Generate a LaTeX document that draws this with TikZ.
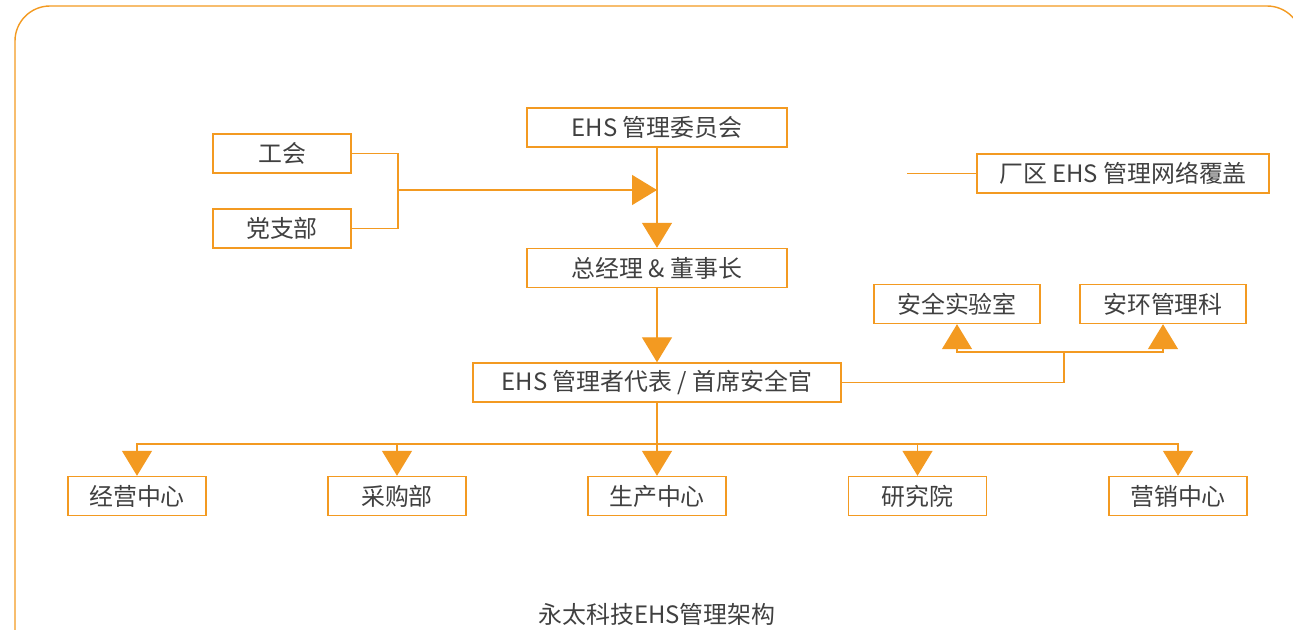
\documentclass[tikz,border=0pt]{standalone}
\usepackage{fontspec}
\newfontfamily\cjk{Noto Sans CJK SC}
\usetikzlibrary{arrows.meta}
\definecolor{ehsorange}{HTML}{F39A21}
\definecolor{ehstext}{HTML}{404040}

\begin{document}
\begin{tikzpicture}[x=0.025cm,y=-0.025cm,
  unit/.style={draw=ehsorange,line width=1pt,text=ehstext,inner sep=0pt,
    minimum width=3.45cm,minimum height=0.975cm,font=\cjk\fontsize{17}{20}\selectfont},
  link/.style={draw=ehsorange,line width=1pt},
  ehsarrow/.style={link,-{Triangle[length=0.625cm,width=0.75cm]}}]

\useasboundingbox (0,0) rectangle (1293,630);
\clip (0,0) rectangle (1293,630);
\draw[ehsorange,line width=1pt,rounded corners=0.875cm] (15,700) -- (15,6) -- (1302,6) -- (1302,700);

% top part
\node[unit,minimum width=6.5cm] (board) at (657,127.5) {EHS 管理委员会};
\node[unit] (union) at (282,153.5) {工会};
\node[unit] (party) at (282,228.5) {党支部};
\node[unit,minimum width=6.5cm] (ceo) at (657,268) {总经理 \& 董事长};
\node[unit,minimum width=7.3cm] (network) at (1123,173.5) {厂区 EHS 管理网络覆盖};
\coordinate (netstub) at (907,173.5);
\draw[link] (netstub) -- (network.west);

% representative and safety units
\node[unit,minimum width=9.2cm] (rep) at (657,382.5) {EHS 管理者代表 / 首席安全官};
\node[unit,minimum width=4.15cm] (lab) at (957,304) {安全实验室};
\node[unit,minimum width=4.15cm] (office) at (1163,304) {安环管理科};

% departments
\node[unit] (ops) at (137,496) {经营中心};
\node[unit] (purchase) at (397,496) {采购部};
\node[unit] (prod) at (657,496) {生产中心};
\node[unit] (rnd) at (917.5,496) {研究院};
\node[unit] (sales) at (1178,496) {营销中心};

\node[text=ehstext,font=\cjk\fontsize{17}{20}\selectfont] (title) at (657,614) {永太科技EHS管理架构};

\coordinate (merge) at (398,190);
\draw[link] (union.east) -| (merge) |- (party.east);
\draw[ehsarrow] (merge) -- (merge -| board.south);
\draw[ehsarrow] (board) -- (ceo);
\draw[ehsarrow] (ceo) -- (rep);

\coordinate (labsplit) at (1064,352);
\draw[link] (rep.east) -| (labsplit);
\draw[ehsarrow] (labsplit) -| (lab.south);
\draw[ehsarrow] (labsplit) -| (office.south);

\coordinate (deptsplit) at (657,444);
\draw[link] (rep.south) -- (deptsplit);
\foreach \d in {ops,purchase,prod,rnd,sales}
{
\draw[ehsarrow] (deptsplit) -| (\d.north);
}
\end{tikzpicture}
\end{document}
